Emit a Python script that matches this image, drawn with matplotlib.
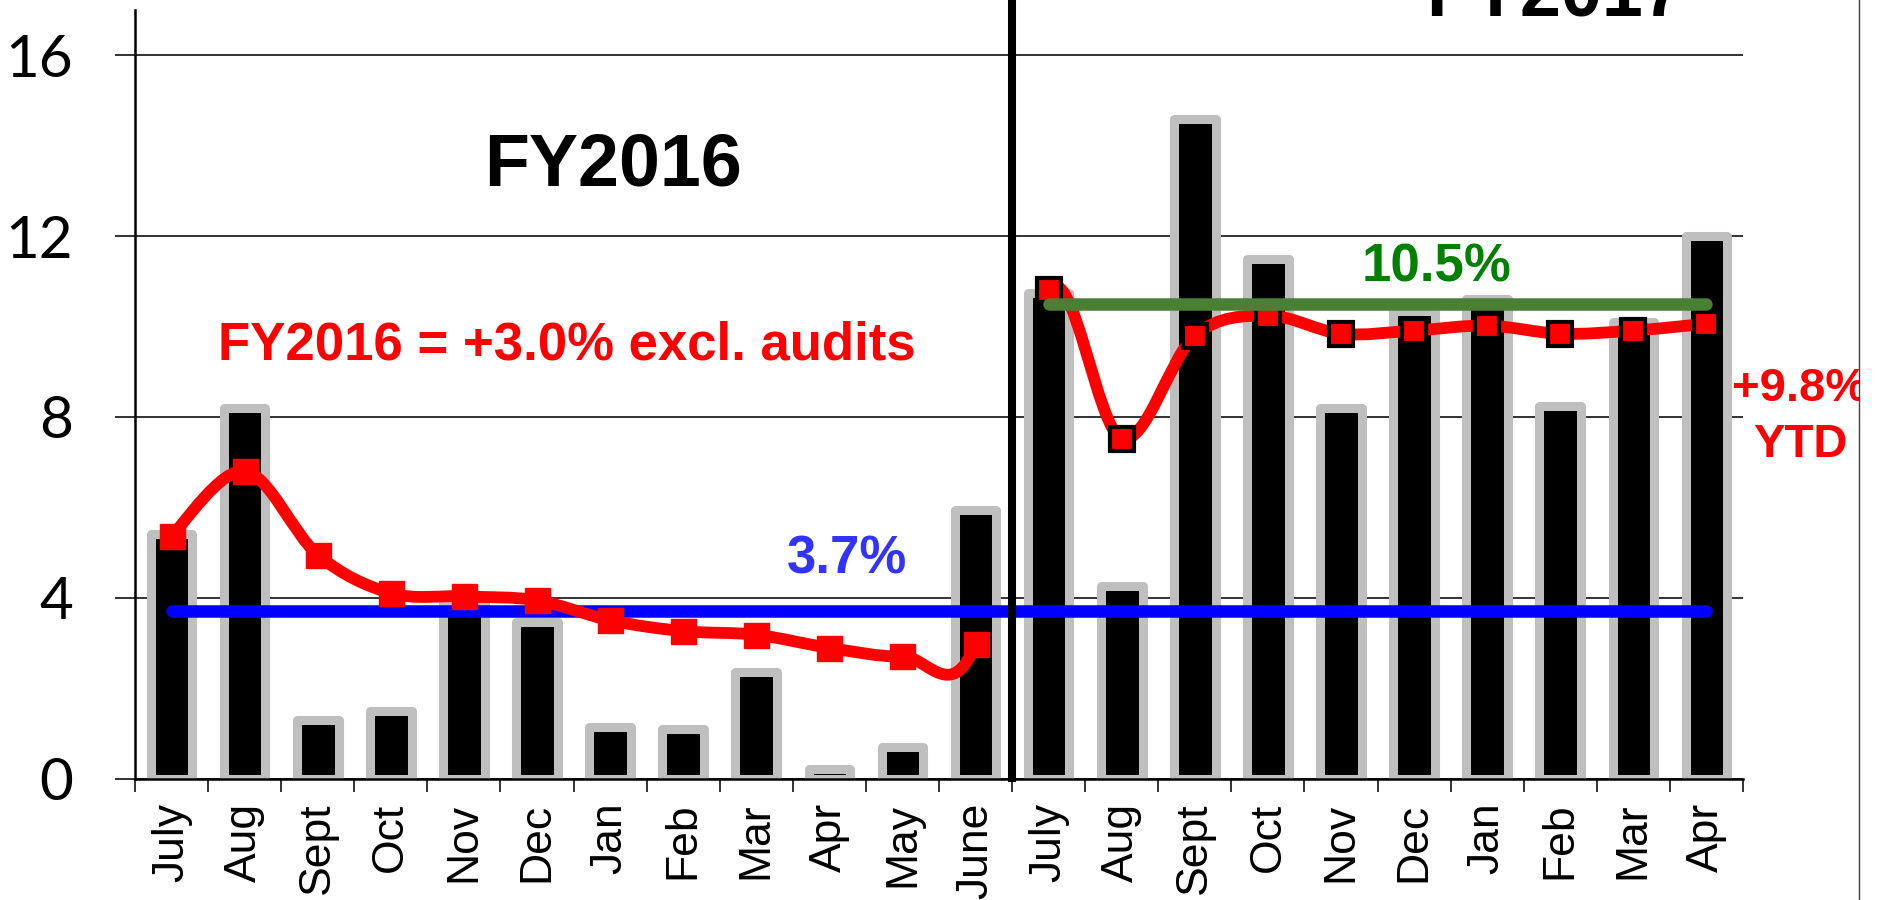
import numpy as np
import matplotlib
matplotlib.use("Agg")
import matplotlib.pyplot as plt
from matplotlib.path import Path
from matplotlib.patches import PathPatch, Rectangle
from matplotlib.lines import Line2D

# ############ Datos
meses16 = ['July', 'Aug', 'Sept', 'Oct', 'Nov', 'Dec', 'Jan', 'Feb', 'Mar', 'Apr', 'May', 'June']
meses17 = ['July', 'Aug', 'Sept', 'Oct', 'Nov', 'Dec', 'Jan', 'Feb', 'Mar', 'Apr']

barras16 = [5.4, 8.2, 1.3, 1.5, 3.9, 3.47, 1.15, 1.1, 2.35, 0.2, 0.7, 5.95]
barras17 = [10.75, 4.25, 14.6, 11.5, 8.2, 10.34, 10.6, 8.25, 10.1, 12.0]

linea16 = [5.37, 6.8, 4.95, 4.1, 4.03, 3.94, 3.5, 3.26, 3.18, 2.89, 2.7, 2.97]
linea17 = [10.8, 7.52, 9.8, 10.24, 9.84, 9.91, 10.02, 9.84, 9.91, 10.06]

promedio16 = 3.7
promedio17 = 10.5

yticks = [0, 4, 8, 12, 16]

ROJO = '#FF0000'
AZUL = '#0000FF'
VERDE_LINEA = '#4A7F35'
VERDE_TEXTO = '#008000'
GRIS = '#BFBFBF'
GRID = '#222222'

plt.rcParams['font.family'] = ['Liberation Sans', 'DejaVu Sans']


# Curva suavizada tipo Excel (Bezier con control a 1/6), saltando un tramo
def CurvaSuave(xs, ys, saltar):
    n = len(xs)
    verts, codes = [], []
    nuevo = True
    for i in range(n - 1):
        if i in saltar:
            nuevo = True
            continue
        a, b = max(i - 1, 0), min(i + 2, n - 1)
        c1 = (xs[i] + (xs[i + 1] - xs[a]) / 6, ys[i] + (ys[i + 1] - ys[a]) / 6)
        c2 = (xs[i + 1] - (xs[b] - xs[i]) / 6, ys[i + 1] - (ys[b] - ys[i]) / 6)
        if nuevo:
            verts.append((xs[i], ys[i]))
            codes.append(Path.MOVETO)
            nuevo = False
        verts += [c1, c2, (xs[i + 1], ys[i + 1])]
        codes += [Path.CURVE4] * 3
    return Path(verts, codes)


fig = plt.figure(figsize=(18.77, 9), dpi=100)
ax = fig.add_axes([135 / 1877, 121.5 / 900, (1743 - 135) / 1877, 17 * 45.2 / 900])

meses = meses16 + meses17
x = np.arange(len(meses))
n16 = len(meses16)

# Barras
ax.bar(x, barras16 + barras17, width=0.57, color='black', edgecolor=GRIS,
       linewidth=6.5, joinstyle='round', zorder=2)

# Promedios
ax.plot([x[0], x[-1]], [promedio16, promedio16], color=AZUL, lw=9,
        solid_capstyle='round', zorder=3)
ax.plot([x[n16], x[-1]], [promedio17, promedio17], color=VERDE_LINEA, lw=9,
        solid_capstyle='round', zorder=5)

# Linea roja suavizada
lineas = linea16 + linea17
camino = CurvaSuave(list(x.astype(float)), lineas, saltar={n16 - 1})
ax.add_patch(PathPatch(camino, facecolor='none', edgecolor=ROJO, lw=8.5,
                       capstyle='round', joinstyle='round', zorder=4))
ax.plot(x[:n16], linea16, ls='none', marker='s', ms=18, color=ROJO,
        mec=ROJO, zorder=4.5)
ax.plot(x[n16:], linea17, ls='none', marker='s', ms=17, color=ROJO,
        mec='black', mew=3, zorder=4.5)

# Division entre años fiscales
ax.plot([n16 - 0.5, n16 - 0.5], [-0.08, 17.5], color='black', lw=5.8,
        clip_on=False, zorder=6, solid_capstyle='butt')

# Ejes
ax.set_xlim(-0.5, len(meses) - 0.5)
ax.set_ylim(0, 17)
ax.set_xticks(x)
ax.set_xticklabels(meses, rotation=90, fontsize=32)
ax.set_xticks(np.arange(-0.5, len(meses), 1), minor=True)
ax.tick_params(axis='x', which='major', length=0, pad=17.5)
ax.tick_params(axis='x', which='minor', length=9.5, width=1.3, color=GRID, direction='out')
ax.set_yticks(yticks)
ax.set_yticklabels([str(v) for v in yticks], fontsize=42, family=['Lato', 'DejaVu Sans'])
ax.tick_params(axis='y', length=14.4, width=1.3, color=GRID, pad=30, direction='out')
ax.grid(axis='y', color=GRID, lw=1.3)
ax.grid(axis='x', visible=False)
ax.set_axisbelow(True)
for lado in ['top', 'right']:
    ax.spines[lado].set_visible(False)
ax.spines['left'].set_linewidth(1.8)
ax.spines['bottom'].set_linewidth(1.8)

# Textos
ax.text(6.04, 13.13, 'FY2016', fontsize=53, fontweight='bold', ha='center',
        va='baseline', zorder=7)
ax.text(18.93, 16.89, 'FY2017', fontsize=53, fontweight='bold', ha='center',
        va='baseline', zorder=7, clip_on=False)
ax.text(5.41, 9.26, 'FY2016 = +3.0% excl. audits', fontsize=38, fontweight='bold',
        color=ROJO, ha='center', va='baseline', zorder=7)
ax.text(9.24, 4.54, '3.7%', fontsize=38, fontweight='bold', color='#3333FF',
        ha='center', va='baseline', zorder=7)
ax.text(17.31, 10.99, '10.5%', fontsize=38, fontweight='bold', color=VERDE_TEXTO,
        ha='center', va='baseline', zorder=7)
ax.text(22.28, 8.35, '+9.8%', fontsize=34, fontweight='bold', color=ROJO,
        ha='center', va='baseline', zorder=7, clip_on=False)
ax.text(22.28, 7.12, 'YTD', fontsize=34, fontweight='bold', color=ROJO,
        ha='center', va='baseline', zorder=7, clip_on=False)

# Borde derecho del grafico
fig.add_artist(Rectangle((1859.5 / 1877, 0), 1, 1, transform=fig.transFigure,
                         facecolor='white', edgecolor='none', zorder=10))
fig.add_artist(Line2D([1859 / 1877, 1859 / 1877], [0, 1], transform=fig.transFigure,
                      color='#404040', lw=1, zorder=11))

fig.savefig('out.png', dpi=100)
